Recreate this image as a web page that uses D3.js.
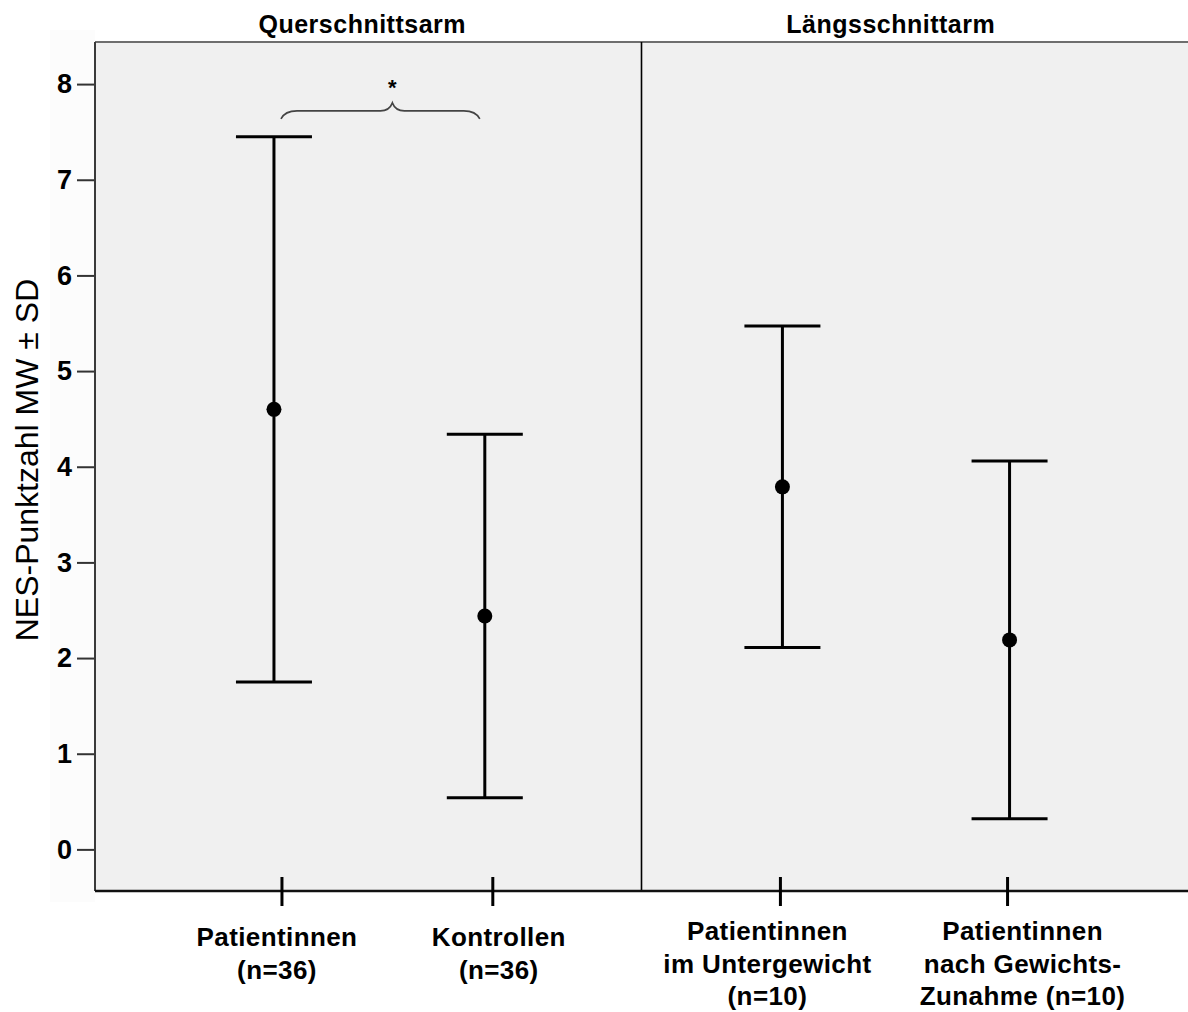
<!DOCTYPE html>
<html>
<head>
<meta charset="utf-8">
<script src="https://cdn.jsdelivr.net/npm/d3@7"></script>
<style>
  body { margin: 0; background: #fff; }
  .bold { font-family: "Liberation Sans", Arial, sans-serif; font-weight: bold; }
</style>
</head>
<body>
<div id="graph1"></div>
<script>
// data
const panels = ["Querschnittsarm", "Längsschnittarm"];
const groups = ["Patientinnen (n=36)", "Kontrollen (n=36)", "Patientinnen im Untergewicht (n=10)", "Patientinnen nach Gewichts-Zunahme (n=10)"];
const groupPanel = ["Querschnittsarm", "Querschnittsarm", "Längsschnittarm", "Längsschnittarm"];
const groupLines = [
    ["Patientinnen", "(n=36)"],
    ["Kontrollen", "(n=36)"],
    ["Patientinnen", "im Untergewicht", "(n=10)"],
    ["Patientinnen", "nach Gewichts-", "Zunahme (n=10)"]
];
const means = [4.60, 2.44, 3.79, 2.19];
const sds = [2.85, 1.90, 1.68, 1.87];
const yTicks = [0, 1, 2, 3, 4, 5, 6, 7, 8];
const yLabel = "NES-Punktzahl MW ± SD";
// significance bracket: between group 0 and 1
const sigPair = [0, 1];
const sigLevel = 7.72;
const sigText = "*";

const width = 1188, height = 1012;
const plot = {left: 95, right: 1188, top: 42, bottom: 891};

// layout tweaks per panel (position of the two groups inside each panel)
const panelPad = [0.796, 0.703];
const panelAlign = [0.557, 0.435];
const markShift = [-8, 2];
const labelTop = [946, 940];
const labelShift = [-5, 6, -13, 15];
const titleShift = [-6, -24];

let svg = d3.select("#graph1")
    .append("svg")
    .attr("width", width)
    .attr("height", height);

let panelX = d3.scaleBand()
    .domain(panels)
    .range([plot.left, plot.right]);

let inner = panels.map(function(p, i) {
    let members = groups.filter(function(g, j) { return groupPanel[j] === p; });
    return d3.scalePoint()
        .domain(members)
        .range([panelX(p), panelX(p) + panelX.bandwidth()])
        .padding(panelPad[i])
        .align(panelAlign[i]);
});

function gx(i) {
    let pi = panels.indexOf(groupPanel[i]);
    return inner[pi](groups[i]);
}
function mx(i) {
    return gx(i) + markShift[panels.indexOf(groupPanel[i])];
}

let y = d3.scaleLinear()
    .domain([-0.435, 8.44])
    .range([plot.bottom, plot.top]);

// faint box behind y axis
svg.append("rect")
    .attr("x", 50).attr("y", 30)
    .attr("width", plot.left - 50).attr("height", plot.bottom - 30 + 11)
    .attr("fill", "#fcfcfc");

svg.append("rect")
    .attr("x", plot.left).attr("y", plot.top)
    .attr("width", plot.right - plot.left).attr("height", plot.bottom - plot.top)
    .attr("fill", "#f0f0f0");

// top border
svg.append("line")
    .attr("x1", plot.left).attr("x2", plot.right)
    .attr("y1", plot.top).attr("y2", plot.top)
    .attr("stroke", "#6e6e6e").attr("stroke-width", 2);

// divider between the two arms
svg.append("line")
    .attr("x1", panelX(panels[1])).attr("x2", panelX(panels[1]))
    .attr("y1", plot.top).attr("y2", plot.bottom)
    .attr("stroke", "#000").attr("stroke-width", 1.6);

// y axis
let yAxis = svg.append("g")
    .attr("transform", `translate(${plot.left},0)`)
    .call(d3.axisLeft(y).tickValues(yTicks).tickSize(18).tickPadding(5).tickFormat(d3.format("d")));
yAxis.select(".domain").remove();
yAxis.selectAll(".tick line").attr("stroke", "#333").attr("stroke-width", 2);
yAxis.selectAll(".tick text")
    .attr("class", "bold")
    .style("font-size", "27px")
    .attr("fill", "#000");

svg.append("line")
    .attr("x1", plot.left).attr("x2", plot.left)
    .attr("y1", plot.top).attr("y2", plot.bottom)
    .attr("stroke", "#3a3a3a").attr("stroke-width", 2);

svg.append("line")
    .attr("x1", plot.left).attr("x2", plot.right)
    .attr("y1", plot.bottom).attr("y2", plot.bottom)
    .attr("stroke", "#111").attr("stroke-width", 2.5);

// x ticks
svg.selectAll(".xtick").data(groups)
    .enter().append("line")
    .attr("class", "xtick")
    .attr("x1", function(d, i) { return gx(i); })
    .attr("x2", function(d, i) { return gx(i); })
    .attr("y1", plot.bottom - 14).attr("y2", plot.bottom + 15)
    .attr("stroke", "#000").attr("stroke-width", 3);

// category labels
let labels = svg.selectAll(".xlabel").data(groupLines)
    .enter().append("text")
    .attr("class", "bold")
    .style("font-size", "26px")
    .style("letter-spacing", "0.4px")
    .attr("text-anchor", "middle")
    .attr("fill", "#000");
labels.each(function(lines, i) {
    let pi = panels.indexOf(groupPanel[i]);
    d3.select(this).selectAll("tspan").data(lines)
        .enter().append("tspan")
        .attr("x", gx(i) + labelShift[i])
        .attr("y", function(d, k) { return labelTop[pi] + k * 32.5; })
        .text(function(d) { return d; });
});

// panel titles
svg.selectAll(".ptitle").data(panels)
    .enter().append("text")
    .attr("class", "bold")
    .style("font-size", "25px")
    .style("letter-spacing", "0.5px")
    .attr("text-anchor", "middle")
    .attr("x", function(d, i) { return panelX(d) + panelX.bandwidth() / 2 + titleShift[i]; })
    .attr("y", 33)
    .text(function(d) { return d; });

// error bars
let bars = svg.append("g");
groups.forEach(function(g, i) {
    let cx = mx(i), lo = y(means[i] - sds[i]), hi = y(means[i] + sds[i]);
    bars.append("line")
        .attr("x1", cx).attr("x2", cx).attr("y1", hi).attr("y2", lo)
        .attr("stroke", "#000").attr("stroke-width", 3);
    [lo, hi].forEach(function(v) {
        bars.append("line")
            .attr("x1", cx - 38).attr("x2", cx + 38).attr("y1", v).attr("y2", v)
            .attr("stroke", "#000").attr("stroke-width", 3);
    });
    bars.append("circle")
        .attr("cx", cx).attr("cy", y(means[i])).attr("r", 7.5)
        .attr("fill", "#000");
});

// curly brace with star
let bx1 = mx(sigPair[0]) + 7, bx2 = mx(sigPair[1]) - 5;
let bm = (bx1 + bx2) / 2 + 12, by = y(sigLevel);
let brace = d3.path();
brace.moveTo(bx1, by + 8);
brace.quadraticCurveTo(bx1 + 4, by, bx1 + 16, by);
brace.lineTo(bm - 12, by);
brace.quadraticCurveTo(bm - 3, by, bm, by - 8);
brace.quadraticCurveTo(bm + 3, by, bm + 12, by);
brace.lineTo(bx2 - 16, by);
brace.quadraticCurveTo(bx2 - 4, by, bx2, by + 8);
svg.append("path")
    .attr("d", brace.toString())
    .attr("fill", "none")
    .attr("stroke", "#444")
    .attr("stroke-width", 1.6);

svg.append("text")
    .attr("x", bm).attr("y", by - 16)
    .attr("text-anchor", "middle")
    .style("font-family", "Liberation Sans, Arial, sans-serif")
    .style("font-weight", "bold")
    .style("font-size", "22px")
    .text(sigText);

svg.append("text")
    .attr("transform", `translate(38, 460) rotate(-90)`)
    .attr("text-anchor", "middle")
    .style("font-family", "Liberation Sans, Arial, sans-serif")
    .style("font-size", "32px")
    .text(yLabel);
</script>
</body>
</html>
